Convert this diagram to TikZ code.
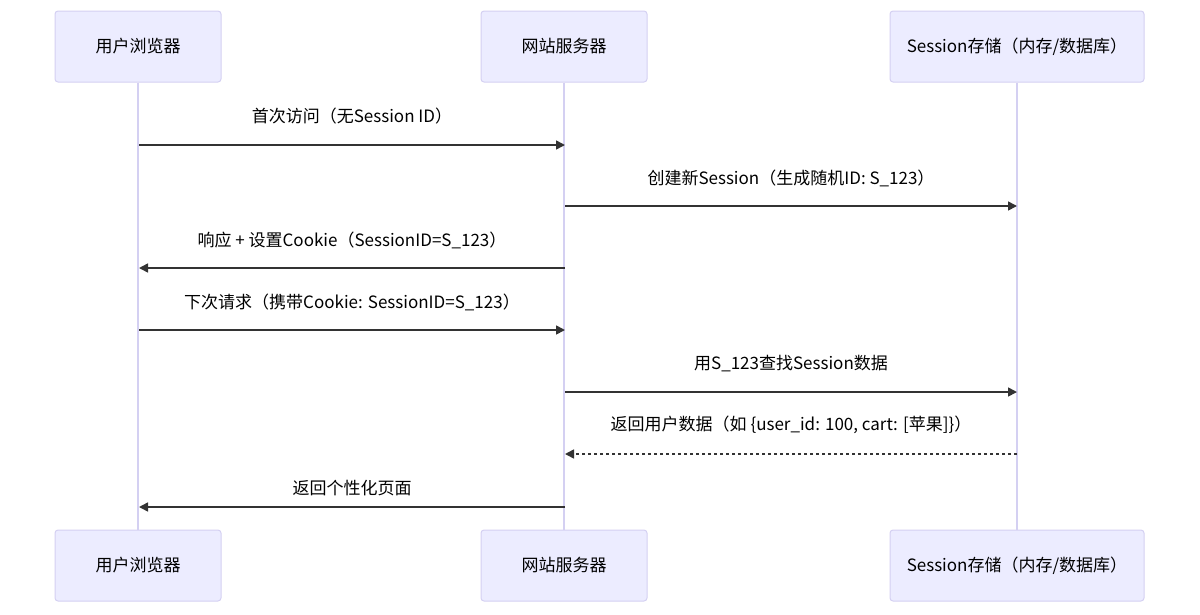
\documentclass[tikz,border=0pt]{standalone}
\usepackage{fontspec}
\setmainfont{Noto Sans CJK SC}
\usetikzlibrary{arrows.meta}
\definecolor{actfill}{HTML}{ECECFF}
\definecolor{actdraw}{HTML}{D4D0F2}
\definecolor{lifeline}{HTML}{D4D0F2}
\definecolor{msg}{HTML}{333333}
\tikzset{
  actor/.style={draw=actdraw, fill=actfill, rounded corners=3pt, line width=1pt, minimum height=71pt, inner sep=0pt, font=\fontsize{17}{20}\selectfont, text=black},
  life/.style={draw=lifeline, line width=1.5pt},
  msgline/.style={draw=msg, line width=1.6pt, -{Triangle[length=9pt,width=9pt]}},
  msgdash/.style={msgline, dash pattern=on 3pt off 3pt},
  lbl/.style={font=\fontsize{17}{20}\selectfont, text=black, inner sep=0pt}
}
\begin{document}
\begin{tikzpicture}[x=1pt,y=-1pt]
\useasboundingbox (0,0) rectangle (1200,614);
% actors
\node[actor, minimum width=166pt] (a1) at (138,46.5) {用户浏览器};
\node[actor, minimum width=166pt] (a2) at (564,46.5) {网站服务器};
\node[actor, minimum width=254pt] (a3) at (1017,46.5) {Session存储（内存/数据库）};
\node[actor, minimum width=166pt] (b1) at (138,565.5) {用户浏览器};
\node[actor, minimum width=166pt] (b2) at (564,565.5) {网站服务器};
\node[actor, minimum width=254pt] (b3) at (1017,565.5) {Session存储（内存/数据库）};
% lifelines
\draw[life] (a1.south) -- (b1.north);
\draw[life] (a2.south) -- (b2.north);
\draw[life] (a3.south) -- (b3.north);
% message coordinates
\foreach \n/\y in {1/145,2/206,3/268,4/330,5/392,6/454,7/507}{
  \coordinate (L\n) at (139,\y);
  \coordinate (M\n) at (565,\y);
  \coordinate (R\n) at (1017,\y);
}
\draw[msgline] (L1) -- (M1);
\node[lbl] (t1) at (352,116) {首次访问（无Session ID）};
\draw[msgline] (M2) -- (R2);
\node[lbl] (t2) at (791,178) {创建新Session（生成随机ID: S\_123）};
\draw[msgline] (M3) -- (L3);
\node[lbl] (t3) at (352,240) {响应 + 设置Cookie（SessionID=S\_123）};
\draw[msgline] (L4) -- (M4);
\node[lbl] (t4) at (352,302) {下次请求（携带Cookie: SessionID=S\_123）};
\draw[msgline] (M5) -- (R5);
\node[lbl] (t5) at (791,364) {用S\_123查找Session数据};
\draw[msgdash] (R6) -- (M6);
\node[lbl] (t6) at (791,425) {返回用户数据（如 \{user\_id: 100, cart: [苹果]\}）};
\draw[msgline] (M7) -- (L7);
\node[lbl] (t7) at (352,488) {返回个性化页面};
\end{tikzpicture}
\end{document}
